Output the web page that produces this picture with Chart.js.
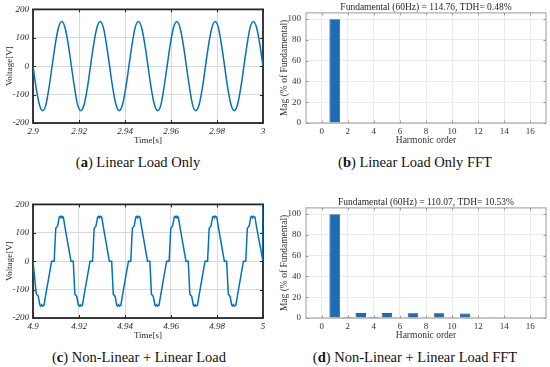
<!DOCTYPE html>
<html>
<head>
<meta charset="utf-8">
<script src="https://cdn.jsdelivr.net/npm/chart.js@4.4.1/dist/chart.umd.min.js"></script>
<style>
  body { margin: 0; background: #fff; }
  #wrap { position: relative; width: 550px; height: 367px; overflow: hidden; background: #fff; }
  canvas { position: absolute; }
  .cap { position: absolute; text-align: center; font: 14.5px 'Liberation Serif', serif; color: #111; line-height: 18px; white-space: nowrap; }
</style>
</head>
<body>
<div id="wrap">
  <canvas id="chartA" width="275" height="150" style="left:0;top:0"></canvas>
  <canvas id="chartB" width="275" height="150" style="left:275px;top:0"></canvas>
  <canvas id="chartC" width="275" height="150" style="left:0;top:195px"></canvas>
  <canvas id="chartD" width="275" height="150" style="left:275px;top:195px"></canvas>
  <div class="cap" style="left:0;top:153px;width:276px">(<b>a</b>) Linear Load Only</div>
  <div class="cap" style="left:277px;top:153px;width:276px">(<b>b</b>) Linear Load Only FFT</div>
  <div class="cap" style="left:0;top:348px;width:278px">(<b>c</b>) Non-Linear + Linear Load</div>
  <div class="cap" style="left:277px;top:348px;width:276px">(<b>d</b>) Non-Linear + Linear Load FFT</div>
</div>
<script>
// (a) linear load voltage, 2.9 s .. 3 s
const timeA = [
  2.9000, 2.9014, 2.9028, 2.9042, 2.9056, 2.9069, 2.9083, 2.9097, 2.9111, 2.9125, 2.9139, 2.9153,
  2.9167, 2.9181, 2.9194, 2.9208, 2.9222, 2.9236, 2.9250, 2.9264, 2.9278, 2.9292, 2.9306, 2.9319,
  2.9333, 2.9347, 2.9361, 2.9375, 2.9389, 2.9403, 2.9417, 2.9431, 2.9444, 2.9458, 2.9472, 2.9486,
  2.9500, 2.9514, 2.9528, 2.9542, 2.9556, 2.9569, 2.9583, 2.9597, 2.9611, 2.9625, 2.9639, 2.9653,
  2.9667, 2.9681, 2.9694, 2.9708, 2.9722, 2.9736, 2.9750, 2.9764, 2.9778, 2.9792, 2.9806, 2.9819,
  2.9833, 2.9847, 2.9861, 2.9875, 2.9889, 2.9903, 2.9917, 2.9931, 2.9944, 2.9958, 2.9972, 2.9986,
  3.0000
];
const voltA = [
  0, -78, -136, -157, -136, -78, 0, 78, 136, 157, 136, 78,
  0, -78, -136, -157, -136, -78, 0, 78, 136, 157, 136, 78,
  0, -78, -136, -157, -136, -78, 0, 78, 136, 157, 136, 78,
  0, -78, -136, -157, -136, -78, 0, 78, 136, 157, 136, 78,
  0, -78, -136, -157, -136, -78, 0, 78, 136, 157, 136, 78,
  0, -78, -136, -157, -136, -78, 0, 78, 136, 157, 136, 78,
  0
];
const timeTicksA = [2.9, 2.92, 2.94, 2.96, 2.98, 3];
const timeLabelsA = ['2.9', '2.92', '2.94', '2.96', '2.98', '3'];

// (c) non-linear + linear load voltage, 4.9 s .. 5 s
const timeC = [
  4.9000, 4.9014, 4.9018, 4.9023, 4.9030, 4.9034, 4.9038, 4.9042, 4.9048, 4.9055, 4.9081,
  4.9092, 4.9099, 4.9103, 4.9107, 4.9114, 4.9118, 4.9122, 4.9126, 4.9132, 4.9139, 4.9165,
  4.9175, 4.9182, 4.9186, 4.9190, 4.9197, 4.9201, 4.9205, 4.9209, 4.9215, 4.9222, 4.9248,
  4.9259, 4.9266, 4.9270, 4.9274, 4.9281, 4.9285, 4.9289, 4.9293, 4.9299, 4.9306, 4.9332,
  4.9342, 4.9349, 4.9353, 4.9357, 4.9364, 4.9368, 4.9372, 4.9376, 4.9382, 4.9389, 4.9415,
  4.9425, 4.9432, 4.9436, 4.9440, 4.9447, 4.9451, 4.9455, 4.9459, 4.9465, 4.9472, 4.9498,
  4.9508, 4.9515, 4.9519, 4.9523, 4.9530, 4.9534, 4.9538, 4.9542, 4.9548, 4.9555, 4.9581,
  4.9592, 4.9599, 4.9603, 4.9607, 4.9614, 4.9618, 4.9622, 4.9626, 4.9632, 4.9639, 4.9665,
  4.9675, 4.9682, 4.9686, 4.9690, 4.9697, 4.9701, 4.9705, 4.9709, 4.9715, 4.9722, 4.9748,
  4.9759, 4.9766, 4.9770, 4.9774, 4.9781, 4.9785, 4.9789, 4.9793, 4.9799, 4.9806, 4.9832,
  4.9842, 4.9849, 4.9853, 4.9857, 4.9864, 4.9868, 4.9872, 4.9876, 4.9882, 4.9889, 4.9915,
  4.9925, 4.9932, 4.9936, 4.9940, 4.9947, 4.9951, 4.9955, 4.9959, 4.9965, 4.9972, 5.0000,
  5.0000
];
const voltC = [
  0, -114, -119, -123, -155, -158, -153, -158, -155, -120, 0,
  0, 116, 120, 124, 155, 158, 153, 158, 155, 120, 0,
  0, -116, -120, -124, -155, -158, -153, -158, -155, -120, 0,
  0, 116, 120, 124, 155, 158, 153, 158, 155, 120, 0,
  0, -116, -120, -124, -155, -158, -153, -158, -155, -120, 0,
  0, 116, 120, 124, 155, 158, 153, 158, 155, 120, 0,
  0, -116, -120, -124, -155, -158, -153, -158, -155, -120, 0,
  0, 116, 120, 124, 155, 158, 153, 158, 155, 120, 0,
  0, -116, -120, -124, -155, -158, -153, -158, -155, -120, 0,
  0, 116, 120, 124, 155, 158, 153, 158, 155, 120, 0,
  0, -116, -120, -124, -155, -158, -153, -158, -155, -120, 0,
  0, 116, 120, 124, 155, 158, 153, 158, 155, 120, 0,
  260
];
const timeTicksC = [4.9, 4.92, 4.94, 4.96, 4.98, 5];
const timeLabelsC = ['4.9', '4.92', '4.94', '4.96', '4.98', '5'];

const voltTicks = [-200, -100, 0, 100, 200];
const voltLabels = ['-200', '-100', '0', '100', '200'];

// harmonic spectra, % of fundamental
const orders = [0, 1, 2, 3, 4, 5, 6, 7, 8, 9, 10, 11, 12, 13, 14, 15, 16];
const magB = [0, 100, 0, 0, 0, 0, 0, 0, 0, 0, 0.3, 0, 0, 0, 0, 0, 0];
const magD = [0, 100, 0.1, 4.8, 0.1, 4.8, 0.3, 4.6, 0.3, 4.6, 0.3, 4.3, 0.6, 0.7, 0.2, 0.5, 0];
const orderTicks = [0, 2, 4, 6, 8, 10, 12, 14, 16];
const magTicks = [0, 20, 40, 60, 80, 100];

const titleB = 'Fundamental (60Hz) = 114.76, TDH= 0.48%';
const titleD = 'Fundamental (60Hz) = 110.07, TDH= 10.53%';

Chart.defaults.font.family = "'Liberation Serif', 'Times New Roman', serif";
Chart.defaults.color = '#262626';

// box round the plot area plus inward tick marks (MATLAB style)
const framePlugin = {
  id: 'frame',
  beforeDatasetsDraw(chart, args, opts) {
    const { ctx, chartArea: a, scales } = chart;
    ctx.save();
    ctx.strokeStyle = opts.color;
    ctx.lineWidth = 1;
    ctx.beginPath();
    scales.x.ticks.forEach(t => {
      const px = Math.round(scales.x.getPixelForValue(t.value)) + 0.5;
      ctx.moveTo(px, a.bottom); ctx.lineTo(px, a.bottom - opts.tick);
      ctx.moveTo(px, a.top); ctx.lineTo(px, a.top + opts.tick);
    });
    scales.y.ticks.forEach(t => {
      const py = Math.round(scales.y.getPixelForValue(t.value)) + 0.5;
      ctx.moveTo(a.left, py); ctx.lineTo(a.left + opts.tick, py);
      ctx.moveTo(a.right, py); ctx.lineTo(a.right - opts.tick, py);
    });
    ctx.stroke();
    ctx.lineWidth = opts.width;
    ctx.strokeRect(a.left, a.top, a.right - a.left, a.bottom - a.top);
    ctx.restore();
  }
};

const waveChart = (id, times, volts, xTicks, xLabels, smooth) => {
  return new Chart(document.getElementById(id), {
    type: 'line',
    data: {
      datasets: [{
        data: times.map((t, i) => ({ x: t, y: volts[i] })),
        borderColor: '#0072BD',
        borderWidth: 1.5,
        pointRadius: 0,
        tension: smooth ? 0.4 : 0,
        cubicInterpolationMode: smooth ? 'monotone' : 'default'
      }]
    },
    options: {
      responsive: false,
      animation: false,
      devicePixelRatio: 1,
      layout: { padding: { top: 6, right: 12, left: 0, bottom: 0 } },
      plugins: {
        legend: { display: false },
        tooltip: { enabled: false },
        frame: { color: '#262626', width: 1.8, tick: 3 }
      },
      scales: {
        x: {
          type: 'linear',
          min: xTicks[0],
          max: xTicks[xTicks.length - 1],
          afterBuildTicks: s => { s.ticks = xTicks.map(v => ({ value: v })); },
          afterFit: s => { s.height = 27; },
          ticks: {
            autoSkip: false, maxRotation: 0, padding: 3,
            font: { size: 9, style: 'italic' },
            callback: (v, i) => xLabels[i]
          },
          grid: { color: '#d9d9d9', drawTicks: false },
          border: { display: false },
          title: { display: true, text: 'Time[s]', font: { size: 9 }, padding: { top: 0, bottom: 4 } }
        },
        y: {
          min: -200,
          max: 200,
          afterBuildTicks: s => { s.ticks = voltTicks.map(v => ({ value: v })); },
          afterFit: s => { s.width = 33; },
          ticks: {
            autoSkip: false, padding: 4,
            font: { size: 9, style: 'italic' },
            callback: (v, i) => voltLabels[i]
          },
          grid: { color: '#d9d9d9', drawTicks: false },
          border: { display: false },
          title: { display: true, text: 'Voltage[V]', font: { size: 9 }, padding: { top: 4, bottom: 0 } }
        }
      }
    },
    plugins: [framePlugin]
  });
};

const fftChart = (id, mags, title) => {
  return new Chart(document.getElementById(id), {
    type: 'bar',
    data: {
      datasets: [{
        data: orders.map((o, i) => ({ x: o, y: mags[i] })),
        backgroundColor: '#1f6db3',
        borderColor: '#1c2b3d',
        borderWidth: 0.7,
        barPercentage: 0.8,
        categoryPercentage: 1.0
      }]
    },
    options: {
      responsive: false,
      animation: false,
      devicePixelRatio: 1,
      layout: { padding: { top: 0, right: 4, left: 0, bottom: 0 } },
      plugins: {
        legend: { display: false },
        tooltip: { enabled: false },
        title: {
          display: true, text: title, fullSize: false, color: '#262626',
          font: { size: 9.5, weight: 'normal' },
          padding: { top: 1.5, bottom: 0 }
        },
        frame: { color: '#9a9a9a', width: 1, tick: 2.5 }
      },
      scales: {
        x: {
          type: 'linear',
          min: -1.2,
          max: 17.2,
          offset: false,
          afterBuildTicks: s => { s.ticks = orderTicks.map(v => ({ value: v })); },
          afterFit: s => { s.height = 27; },
          ticks: { autoSkip: false, maxRotation: 0, padding: 3, color: '#333', font: { size: 9 } },
          grid: { color: '#ebebeb', drawTicks: false, offset: false },
          border: { display: false },
          title: { display: true, text: 'Harmonic order', color: '#333', font: { size: 9.5 }, padding: { top: 0, bottom: 4 } }
        },
        y: {
          min: 0,
          max: 106,
          afterBuildTicks: s => { s.ticks = magTicks.map(v => ({ value: v })); },
          afterFit: s => { s.width = 31; },
          ticks: { autoSkip: false, padding: 5, color: '#333', font: { size: 9 } },
          grid: { color: '#ebebeb', drawTicks: false },
          border: { display: false },
          title: { display: true, text: 'Mag (% of Fundamental)', color: '#333', font: { size: 9.5 }, padding: { top: 4, bottom: 0 } }
        }
      }
    },
    plugins: [framePlugin]
  });
};

waveChart('chartA', timeA, voltA, timeTicksA, timeLabelsA, true);
fftChart('chartB', magB, titleB);
waveChart('chartC', timeC, voltC, timeTicksC, timeLabelsC, false);
fftChart('chartD', magD, titleD);
</script>
</body>
</html>
